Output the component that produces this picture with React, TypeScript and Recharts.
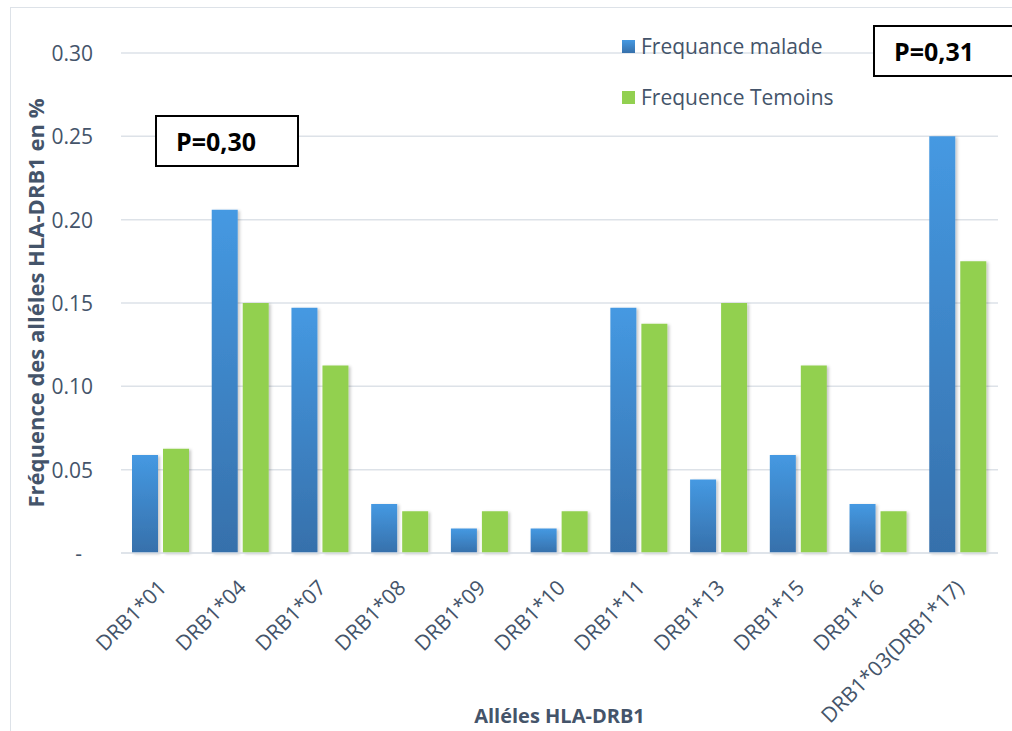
import React from 'react';
import { BarChart, Bar, XAxis, YAxis, CartesianGrid, Legend, Label } from 'recharts';

const alleles = [
  'DRB1*01', 'DRB1*04', 'DRB1*07', 'DRB1*08', 'DRB1*09', 'DRB1*10',
  'DRB1*11', 'DRB1*13', 'DRB1*15', 'DRB1*16', 'DRB1*03(DRB1*17)',
];
const frequenceMalade = [0.0588, 0.2059, 0.1471, 0.0294, 0.0147, 0.0147, 0.1471, 0.0441, 0.0588, 0.0294, 0.25];
const frequenceTemoins = [0.0625, 0.15, 0.1125, 0.025, 0.025, 0.025, 0.1375, 0.15, 0.1125, 0.025, 0.175];
const yTicks = [0, 0.05, 0.1, 0.15, 0.2, 0.25, 0.3];

const data = alleles.map((name, i) => ({
  name,
  malade: frequenceMalade[i],
  temoins: frequenceTemoins[i],
}));

const FONT = '"Open Sans", sans-serif';
const SLATE = '#44546a';
const GRID = '#dde2e8';

const YTick = ({ x, y, payload }: any) => {
  const zero = payload.value === 0;
  return (
    <text
      x={zero ? x - 11 : x}
      y={y}
      textAnchor="end"
      dominantBaseline="central"
      fill={SLATE}
      fontSize={21}
      fontFamily={FONT}
    >
      {zero ? '-' : payload.value.toFixed(2)}
    </text>
  );
};

const XTick = ({ x, y, payload }: any) => {
  const px = x + 7;
  const py = y + 28;
  return (
    <text
      x={px}
      y={py}
      textAnchor="end"
      transform={`rotate(-45, ${px}, ${py})`}
      fill={SLATE}
      fontSize={21}
      fontFamily={FONT}
    >
      {payload.value}
    </text>
  );
};

const LegendBox = () => (
  <div style={{ fontFamily: FONT, fontSize: 21, color: SLATE }}>
    {[
      { label: 'Frequance malade', fill: 'linear-gradient(#4599e2, #3670ab)' },
      { label: 'Frequence Temoins', fill: '#92d050' },
    ].map((item, i) => (
      <div key={item.label} style={{ display: 'flex', alignItems: 'center', height: 22, marginBottom: i === 0 ? 29 : 0 }}>
        <span style={{ width: 13, height: 13, background: item.fill, marginRight: 6, display: 'inline-block' }} />
        <span style={{ lineHeight: '22px', whiteSpace: 'nowrap' }}>{item.label}</span>
      </div>
    ))}
  </div>
);

const pBox = (left: number, top: number, width: number, text: string) => (
  <div
    style={{
      position: 'absolute',
      left,
      top,
      width,
      height: 48,
      border: '2px solid #000',
      background: '#fff',
      fontFamily: FONT,
      fontWeight: 700,
      fontSize: 25,
      lineHeight: '48px',
      paddingLeft: 19,
      color: '#000',
      boxSizing: 'content-box',
    }}
  >
    {text}
  </div>
);

export default function App() {
  return (
    <div style={{ position: 'absolute', left: 0, top: 0, width: 1012, height: 731, background: '#fff', overflow: 'hidden' }}>
      <div
        style={{
          position: 'absolute',
          left: 10,
          top: 7,
          width: 1040,
          height: 760,
          border: `1.5px solid ${GRID}`,
        }}
      />
      <BarChart
        width={1012}
        height={731}
        data={data}
        margin={{ top: 53, right: 14, left: 0, bottom: 0 }}
        barSize={26}
        barGap={5}
        style={{ position: 'absolute', left: 0, top: 0 }}
      >
        <defs>
          <linearGradient id="blueFill" x1="0" y1="0" x2="0" y2="1">
            <stop offset="0%" stopColor="#4599e2" />
            <stop offset="100%" stopColor="#3670ab" />
          </linearGradient>
          <filter id="barShadow" x="-20%" y="-5%" width="150%" height="115%">
            <feDropShadow dx="2" dy="1" stdDeviation="1.5" floodColor="#000" floodOpacity="0.22" />
          </filter>
        </defs>
        <CartesianGrid vertical={false} stroke={GRID} strokeWidth={1.5} />
        <XAxis
          dataKey="name"
          interval={0}
          height={178}
          tickLine={false}
          axisLine={{ stroke: GRID, strokeWidth: 1.5 }}
          tick={<XTick />}
        >
          <Label
            content={({ viewBox }: any) => (
              <text
                x={viewBox.x + viewBox.width / 2}
                y={723}
                textAnchor="middle"
                fill={SLATE}
                fontSize={20}
                fontWeight={700}
                fontFamily={FONT}
              >
                Alléles HLA-DRB1
              </text>
            )}
          />
        </XAxis>
        <YAxis
          width={121}
          domain={[0, 0.3]}
          ticks={yTicks}
          tickLine={false}
          axisLine={false}
          tickSize={0}
          tickMargin={28}
          tick={<YTick />}
        >
          <Label
            content={() => (
              <text
                x={35}
                y={303}
                textAnchor="middle"
                dominantBaseline="central"
                transform="rotate(-90, 35, 303)"
                fill={SLATE}
                fontSize={22}
                fontWeight={700}
                fontFamily={FONT}
              >
                Fréquence des alléles HLA-DRB1 en %
              </text>
            )}
          />
        </YAxis>
        <Legend
          layout="vertical"
          align="center"
          verticalAlign="middle"
          content={<LegendBox />}
          wrapperStyle={{ left: 622, top: 35, width: 260 }}
        />
        <Bar
          dataKey="malade"
          name="Frequance malade"
          fill="url(#blueFill)"
          filter="url(#barShadow)"
          isAnimationActive={false}
        />
        <Bar
          dataKey="temoins"
          name="Frequence Temoins"
          fill="#92d050"
          filter="url(#barShadow)"
          isAnimationActive={false}
        />
      </BarChart>
      {pBox(155, 115, 121, 'P=0,30')}
      {pBox(873, 25, 160, 'P=0,31')}
    </div>
  );
}
